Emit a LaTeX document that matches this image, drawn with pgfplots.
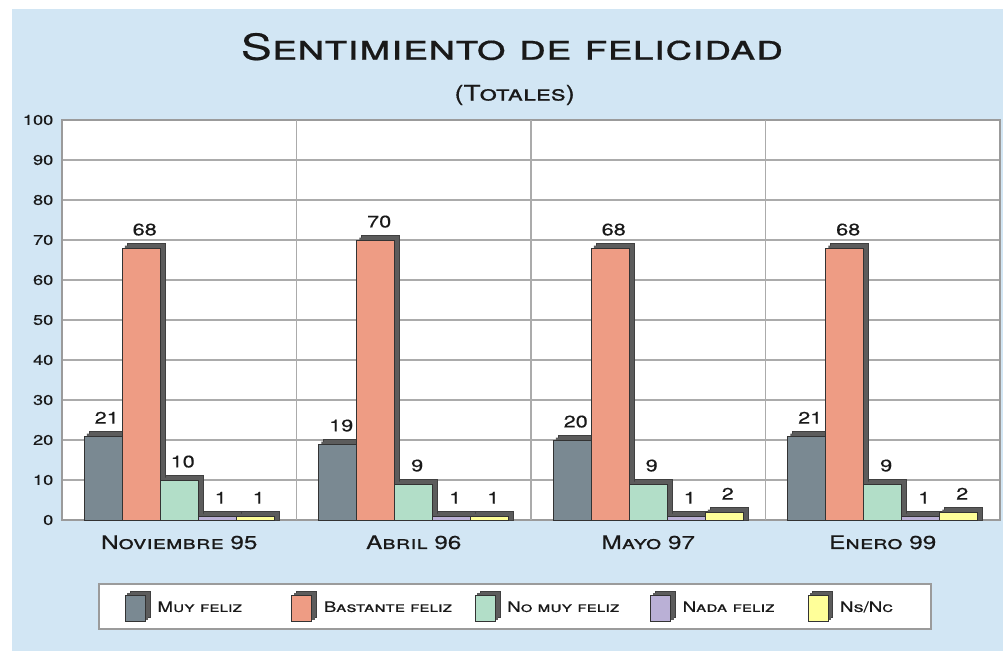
\documentclass[border=0pt]{standalone}
\usepackage{fontspec}
\setmainfont[FakeStretch=1.3, FakeBold=0.4]{TeX Gyre Heros}
\usepackage{pgfplots}
\usepackage{pgfplotstable}
\pgfplotsset{compat=1.18}
\definecolor{bgblue}{RGB}{210,230,244}
\definecolor{cmuy}{RGB}{122,137,146}
\definecolor{cbas}{RGB}{238,156,132}
\definecolor{cnom}{RGB}{178,222,200}
\definecolor{cnad}{RGB}{186,176,214}
\definecolor{cnsn}{RGB}{255,255,153}
\definecolor{cback}{RGB}{92,92,92}
\definecolor{frame}{RGB}{155,155,155}
\pgfplotstableread{
x a b c d e
0 21 68 10 1 1
1 19 70 9 1 1
2 20 68 9 1 2
3 21 68 9 1 2
}\datatable
\pgfplotsset{
  back/.style={forget plot, fill=cback, draw=black!75, line width=0.5pt},
  backmid/.style={forget plot, fill=cback, draw=none},
  face/.style={fill=#1, draw=black!80, line width=0.6pt, nodes near coords},
}
\begin{document}
\begin{tikzpicture}
\fill[bgblue] (9pt,-6.75pt) rectangle (752.25pt,-488.25pt);
\path (0pt,0pt) rectangle (752.25pt,-488.25pt);
\node[font=\fontsize{26.8}{28}\selectfont\scshape, text=black!90] at (384pt,-35pt) {Sentimiento de felicidad};
\node[font=\fontsize{16}{18}\selectfont\scshape, text=black!90] at (386pt,-71.25pt) {(Totales)};
\begin{axis}[
  at={(46.5pt,-390pt)}, anchor=south west,
  scale only axis, width=703.5pt, height=300pt,
  xmin=-0.5, xmax=3.5, ymin=0, ymax=100,
  ytick={0,10,...,100},
  xtick={0,1,2,3},
  xticklabels={Noviembre 95, Abril 96, Mayo 97, Enero 99},
  major tick length=0pt,
  extra x ticks={0.5,1.5,2.5},
  extra x tick labels={},
  extra x tick style={grid=major, major tick length=0pt},
  ymajorgrids,
  grid style={draw=black!33, line width=1.1pt},
  axis line style={draw=frame, line width=2pt},
  axis background/.style={fill=white},
  /pgf/number format/assume math mode=true,
  yticklabel style={font=\fontsize{10.5}{12}\selectfont, text=black!90, xshift=-3pt},
  xticklabel style={font=\fontsize{14}{16}\selectfont\scshape, text=black!90, yshift=-8pt},
  ybar, bar width=28.5pt,
  nodes near coords style={font=\fontsize{12.5}{14}\selectfont, text=black!90, inner sep=0pt, anchor=south, xshift=2.6pt, yshift=9pt},
  legend columns=5,
  legend cell align=left,
  legend style={at={(0.483,-0.216)}, anchor=center, draw=frame, line width=1.9pt, fill=white,
     inner xsep=19.5pt, inner ysep=5pt, column sep=0pt,
     nodes={inner sep=0pt, font=\fontsize{10.8}{12}\selectfont\scshape, text=black!90}},
  legend image code/.code={
     \path[draw=none, fill=none] (0pt,0pt) -- (24pt,0pt);
     \draw[fill=cback, draw=black!75, line width=0.5pt] (3.5pt,-7pt) rectangle (18.5pt,12.5pt);
     \fill[cback] (1.75pt,-8.75pt) rectangle (16.75pt,10.75pt);
     \draw[#1, line width=0.6pt] (0pt,-10.5pt) rectangle (15pt,9pt);
  },
]
% series 1
\addplot[back, bar shift=-53.25pt] table[x=x, y expr=\thisrow{a}+1.25] {\datatable};
\addplot[backmid, bar shift=-55.1pt] table[x=x, y expr=\thisrow{a}+0.62] {\datatable};
\addplot[face=cmuy, bar shift=-57pt] table[x=x, y=a] {\datatable};
\addlegendentry{\makebox[100.5pt][l]{Muy feliz}}
% series 2
\addplot[back, bar shift=-24.75pt] table[x=x, y expr=\thisrow{b}+1.25] {\datatable};
\addplot[backmid, bar shift=-26.6pt] table[x=x, y expr=\thisrow{b}+0.62] {\datatable};
\addplot[face=cbas, bar shift=-28.5pt] table[x=x, y=b] {\datatable};
\addlegendentry{\makebox[113.25pt][l]{Bastante feliz}}
% series 3
\addplot[back, bar shift=3.75pt] table[x=x, y expr=\thisrow{c}+1.25] {\datatable};
\addplot[backmid, bar shift=1.9pt] table[x=x, y expr=\thisrow{c}+0.62] {\datatable};
\addplot[face=cnom, bar shift=0pt] table[x=x, y=c] {\datatable};
\addlegendentry{\makebox[107.25pt][l]{No muy feliz}}
% series 4
\addplot[back, bar shift=32.25pt] table[x=x, y expr=\thisrow{d}+1.25] {\datatable};
\addplot[backmid, bar shift=30.4pt] table[x=x, y expr=\thisrow{d}+0.62] {\datatable};
\addplot[face=cnad, bar shift=28.5pt] table[x=x, y=d] {\datatable};
\addlegendentry{\makebox[93.75pt][l]{Nada feliz}}
% series 5
\addplot[back, bar shift=60.75pt] table[x=x, y expr=\thisrow{e}+1.25] {\datatable};
\addplot[backmid, bar shift=58.9pt] table[x=x, y expr=\thisrow{e}+0.62] {\datatable};
\addplot[face=cnsn, bar shift=57pt] table[x=x, y=e] {\datatable};
\addlegendentry{\makebox[48.75pt][l]{Ns/Nc}}
\end{axis}
\end{tikzpicture}
\end{document}
